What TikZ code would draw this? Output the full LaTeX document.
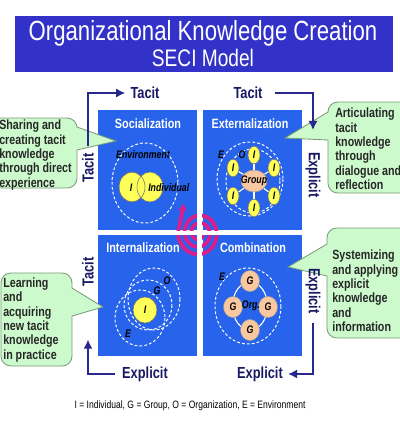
\documentclass[tikz,border=0pt]{standalone}
\usepackage{fontspec}
\setmainfont{Liberation Sans}[FakeStretch=0.8]
\usetikzlibrary{shapes.geometric, arrows.meta, positioning, calc}
\definecolor{secihead}{RGB}{50,50,200}
\definecolor{seciquad}{RGB}{40,100,235}
\definecolor{secinavy}{RGB}{40,40,140}
\definecolor{secilabel}{RGB}{25,25,100}
\definecolor{secinote}{RGB}{205,250,205}
\definecolor{secinoteline}{RGB}{120,155,120}
\definecolor{seciyellow}{RGB}{255,255,90}
\definecolor{secipeach}{RGB}{250,200,160}
\definecolor{secispiral}{RGB}{220,30,140}

\begin{document}
\begin{tikzpicture}[x=0.025cm, y=-0.025cm,
    axislabel/.style={text=secilabel, inner sep=0pt, font=\bfseries\fontsize{11.4}{12}\selectfont},
    flow/.style={draw=secinavy, line width=2pt, -{Latex[length=6.5pt, width=6.5pt]}},
    quadtitle/.style={text=white, font=\bfseries\fontsize{9.6}{10}\selectfont},
    note/.style={fill=secinote, draw=secinoteline, line width=0.6pt, rounded corners=7pt},
    noteedge/.style={draw=secinoteline, line width=0.6pt},
    notetext/.style={anchor=west, align=left, inner sep=0pt, text=black!85,
      font=\bfseries\fontsize{9.5}{10.2}\selectfont},
    ring/.style={draw=white, line width=0.7pt, dash pattern=on 2pt off 1.5pt},
    tag/.style={inner sep=0pt, font=\bfseries\itshape\fontsize{7.8}{8}\selectfont},
    person/.style={ellipse, draw=black!55, fill=seciyellow, line width=0.4pt, tag},
    team/.style={ellipse, draw=black!40, fill=secipeach, line width=0.4pt, tag},
  ]
  \useasboundingbox (0,0) rectangle (400,424);
  \fill[white] (0,0) rectangle (400,424);

  % title banner
  \node[fill=secihead, minimum width=268.8pt, minimum height=39.8pt] (titlebox) at (204,44) {};
  \node[text=white, font=\fontsize{19.7}{22}\selectfont] (title) at (203,33) {Organizational Knowledge Creation};
  \node[text=white, font=\fontsize{17}{19}\selectfont] (subtitle) at (203,58) {SECI Model};

  % the four quadrants
  \fill[seciquad] (98,110) rectangle (197,230);
  \fill[seciquad] (203,110) rectangle (302,230);
  \fill[seciquad] (98,235) rectangle (197,356);
  \fill[seciquad] (203,235) rectangle (302,356);
  \node[quadtitle] (soc) at (148,124) {Socialization};
  \node[quadtitle] (ext) at (250,124) {Externalization};
  \node[quadtitle] (int) at (143,248) {Internalization};
  \node[quadtitle] (com) at (253,248) {Combination};

  % socialization
  \draw[ring] (145,183) ellipse [x radius=33, y radius=40];
  \node[tag] (socEnv) at (143,155) {Environment};
  \node[person, minimum width=18.5pt, minimum height=21.3pt] (socA) at (132,187) {};
  \node[person, minimum width=18.5pt, minimum height=21.3pt] (socB) at (150,187) {};
  \draw[black!55, line width=0.4pt] (132,187) ellipse [x radius=13, y radius=15];
  \node[tag] (socI) at (131,188) {I};
  \node[tag, anchor=west] (socInd) at (148,188) {Individual};

  % externalization
  \draw[ring] (250,179) ellipse [x radius=33, y radius=37];
  \draw[ring] (253,181) ellipse [x radius=27, y radius=32];
  \node[team, minimum width=18.5pt, minimum height=15.6pt] (grp) at (254,181) {\makebox[0pt]{Group}};
  \node[person, minimum width=8.5pt, minimum height=12.5pt] (ext1) at (254,155) {I};
  \node[person, minimum width=8.5pt, minimum height=12.5pt] (ext2) at (274,168) {I};
  \node[person, minimum width=8.5pt, minimum height=12.5pt] (ext3) at (274,196) {I};
  \node[person, minimum width=8.5pt, minimum height=12.5pt] (ext4) at (254,208) {I};
  \node[person, minimum width=8.5pt, minimum height=12.5pt] (ext5) at (233,196) {I};
  \node[person, minimum width=8.5pt, minimum height=12.5pt] (ext6) at (233,168) {I};
  \draw[white, line width=0.8pt] (grp) -- (ext1);
  \draw[white, line width=0.8pt] (grp) -- (ext2);
  \draw[white, line width=0.8pt] (grp) -- (ext3);
  \draw[white, line width=0.8pt] (grp) -- (ext4);
  \draw[white, line width=0.8pt] (grp) -- (ext5);
  \draw[white, line width=0.8pt] (grp) -- (ext6);
  \node[tag] (extE) at (221,155) {E};
  \node[tag] (extO) at (242,155) {O};

  % internalization
  \draw[ring] (154,299) ellipse [x radius=26, y radius=31];
  \draw[ring] (148,305) ellipse [x radius=24, y radius=25];
  \draw[ring] (140,318) ellipse [x radius=25, y radius=28];
  \node[person, minimum width=17pt, minimum height=18.5pt] (intI) at (145,310) {I};
  \node[tag] (intO) at (167,281) {O};
  \node[tag] (intG) at (157,291) {G};
  \node[tag] (intE) at (128,334) {E};

  % combination
  \draw[ring] (248,306) ellipse [x radius=33, y radius=38];
  \draw[white, line width=0.8pt] (250,306) ellipse [x radius=17.5, y radius=24];
  \node[team, minimum width=13.5pt, minimum height=15pt] (comN) at (250,281) {G};
  \node[team, minimum width=13.5pt, minimum height=15pt] (comW) at (233,307) {G};
  \node[team, minimum width=13.5pt, minimum height=15pt] (comE) at (268,307) {G};
  \node[team, minimum width=13.5pt, minimum height=15pt] (comS) at (250,330) {G};
  \node[tag] (org) at (251,306) {Org.};
  \node[tag] (comEnv) at (222,277) {E};

  % spiral in the middle
  \draw[secispiral, line width=2.7pt, -{Latex[length=5.5pt, width=6.5pt]}]
    plot[domain=-720:180, samples=200, smooth]
      ({199+(4+17*(\x+720)/900)*cos(\x)}, {233+1.1*(4+17*(\x+720)/900)*sin(\x)})
    -- (184,203);
  \fill[white] (197.5,206) rectangle (202.5,259);
  \fill[white] (174,230.5) rectangle (226,234.5);

  % callouts
  \draw[note] (-10,118) rectangle (77,188);
  \fill[secinote] (76,127) -- (116,141) -- (76,150) -- cycle;
  \draw[noteedge] (77,127) -- (116,141) -- (77,150);
  \node[notetext] (shareTxt) at (-1,155) {Sharing and\\creating tacit\\knowledge\\through direct\\experience};

  \draw[note] (328,102) rectangle (412,193);
  \fill[secinote] (329,112) -- (285,138) -- (329,140) -- cycle;
  \draw[noteedge] (328,112) -- (285,138) -- (328,140);
  \node[notetext] (articTxt) at (335,149) {Articulating\\tacit\\knowledge\\through\\dialogue and\\reflection};

  \draw[note] (1,273) rectangle (72,366);
  \fill[secinote] (71,288) -- (103,307) -- (71,316) -- cycle;
  \draw[noteedge] (72,288) -- (103,307) -- (72,316);
  \node[notetext] (learnTxt) at (3,320) {Learning\\and\\acquiring\\new tacit\\knowledge\\in practice};

  \draw[note] (327,228) rectangle (412,338);
  \fill[secinote] (328,244) -- (288,267) -- (328,276) -- cycle;
  \draw[noteedge] (327,244) -- (288,267) -- (327,276);
  \node[notetext] (systemTxt) at (332,291) {Systemizing\\and applying\\explicit\\knowledge\\and\\information};

  % tacit / explicit cycle
  \node[axislabel] (tacitTop) at (145,93) {Tacit};
  \node[axislabel] (tacitTopR) at (248,93) {Tacit};
  \node[axislabel, rotate=-90] (explRightT) at (313,175) {Explicit};
  \node[axislabel, rotate=-90] (explRightB) at (313,291) {Explicit};
  \node[axislabel] (explBotR) at (260,374) {Explicit};
  \node[axislabel] (explBotL) at (145,374) {Explicit};
  \node[axislabel, rotate=90] (tacitLeftB) at (88,272) {Tacit};
  \node[axislabel, rotate=90] (tacitLeftT) at (88,168) {Tacit};
  \draw[flow, shorten <=5pt, shorten >=3.5pt] (tacitLeftT.east) |- (tacitTop.west);
  \draw[flow, shorten <=8.5pt, shorten >=15.5pt] (tacitTopR.east) -| (explRightT.west);
  \draw[flow, shorten <=6pt, shorten >=3.5pt] (explRightB.east) |- (explBotR.east);
  \draw[flow, shorten <=5pt, shorten >=37.5pt] (explBotL.west) -| (tacitLeftB.west);

  \node[font=\fontsize{7.6}{8}\selectfont] (legend) at (190,406) {I = Individual, G = Group, O = Organization, E = Environment};
\end{tikzpicture}
\end{document}
